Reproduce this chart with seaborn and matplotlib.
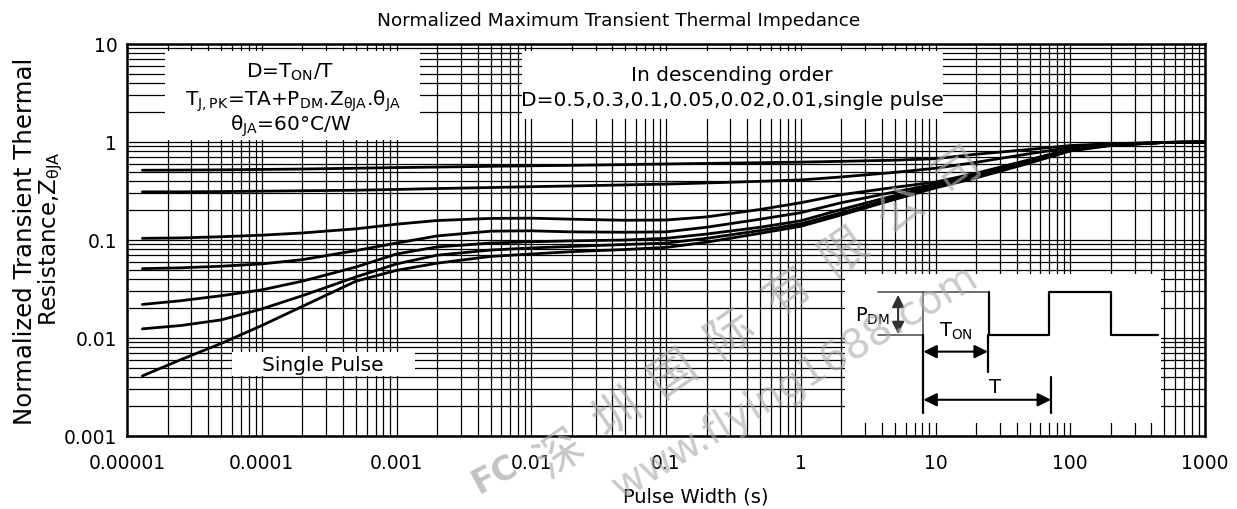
import numpy as np
import pandas as pd
import matplotlib
matplotlib.use("Agg")
import matplotlib.pyplot as plt
import seaborn as sns
from matplotlib.patches import Rectangle
from matplotlib.ticker import LogLocator, NullFormatter, FixedLocator, FixedFormatter

# ---------------- data ----------------
pulse_width = [1.3e-5, 2.5e-5, 5e-5, 1e-4, 2e-4, 5e-4, 1e-3, 2e-3, 5e-3, 1e-2,
               2e-2, 5e-2, 0.1, 0.2, 0.5, 1, 2, 5, 10, 20, 50, 100, 200, 500, 1000]

z_d050 = [0.515, 0.517, 0.52, 0.525, 0.53, 0.54, 0.548, 0.555, 0.565, 0.572,
          0.578, 0.588, 0.597, 0.605, 0.615, 0.623, 0.635, 0.652, 0.675, 0.75,
          0.84, 0.92, 0.96, 0.99, 1.0]
z_d030 = [0.31, 0.31, 0.312, 0.315, 0.318, 0.322, 0.328, 0.335, 0.343, 0.35,
          0.356, 0.365, 0.372, 0.382, 0.397, 0.41, 0.44, 0.49, 0.54, 0.62,
          0.76, 0.88, 0.95, 0.99, 1.0]
z_d010 = [0.104, 0.105, 0.108, 0.112, 0.118, 0.13, 0.145, 0.158, 0.166, 0.167,
          0.163, 0.159, 0.16, 0.172, 0.205, 0.24, 0.29, 0.345, 0.39, 0.48,
          0.66, 0.85, 0.94, 0.99, 1.0]
z_d005 = [0.051, 0.052, 0.054, 0.057, 0.063, 0.078, 0.093, 0.11, 0.123, 0.124,
          0.121, 0.12, 0.121, 0.135, 0.163, 0.19, 0.24, 0.31, 0.37, 0.46,
          0.64, 0.84, 0.93, 0.99, 1.0]
z_d002 = [0.022, 0.024, 0.027, 0.031, 0.038, 0.053, 0.072, 0.085, 0.093, 0.096,
          0.098, 0.1, 0.104, 0.115, 0.135, 0.157, 0.205, 0.285, 0.36, 0.45,
          0.63, 0.83, 0.93, 0.99, 1.0]
z_d001 = [0.0124, 0.0134, 0.0153, 0.0198, 0.027, 0.042, 0.057, 0.07, 0.079, 0.083,
          0.086, 0.09, 0.093, 0.104, 0.125, 0.146, 0.19, 0.27, 0.35, 0.44,
          0.62, 0.82, 0.93, 0.99, 1.0]
z_single = [0.0041, 0.006, 0.0088, 0.0134, 0.021, 0.038, 0.049, 0.058, 0.068, 0.072,
            0.076, 0.08, 0.084, 0.095, 0.117, 0.138, 0.18, 0.26, 0.34, 0.43,
            0.61, 0.81, 0.92, 0.99, 1.0]

series_names = ["D=0.5", "D=0.3", "D=0.1", "D=0.05", "D=0.02", "D=0.01", "Single"]
series_values = [z_d050, z_d030, z_d010, z_d005, z_d002, z_d001, z_single]

x_tick_values = [1e-5, 1e-4, 1e-3, 1e-2, 1e-1, 1, 10, 100, 1000]
x_tick_labels = ["0.00001", "0.0001", "0.001", "0.01", "0.1", "1", "10", "100", "1000"]
y_tick_values = [1e-3, 1e-2, 1e-1, 1, 10]
y_tick_labels = ["0.001", "0.01", "0.1", "1", "10"]

watermark_chars = list("深圳国际有限公司")
watermark_url = "www.flying1688.com"

# ---------------- figure ----------------
sns.set_theme(style="white")
plt.rcParams['font.family'] = ['DejaVu Sans']
plt.rcParams['mathtext.fontset'] = 'dejavusans'
for k in ['text.color', 'axes.labelcolor', 'xtick.color', 'ytick.color']:
    plt.rcParams[k] = 'black'

W, H = 1237, 510
fig = plt.figure(figsize=(W / 100, H / 100), dpi=100)
L, R, T, B = 127, 1205, 45, 437
ax = fig.add_axes([L / W, 1 - B / H, (R - L) / W, (B - T) / H])

def afx(px):
    return (px - L) / (R - L)

def afy(py):
    return (B - py) / (B - T)

df = pd.concat([pd.DataFrame({"t": pulse_width, "z": v, "D": n})
                for n, v in zip(series_names, series_values)], ignore_index=True)
sns.lineplot(data=df, x="t", y="z", hue="D", palette={n: "black" for n in series_names},
             legend=False, linewidth=2.0, ax=ax, sort=False, estimator=None, zorder=3)

ax.set_xscale("log")
ax.set_yscale("log")
ax.set_xlim(1e-5, 1e3)
ax.set_ylim(1e-3, 10)
ax.xaxis.set_major_locator(FixedLocator(x_tick_values))
ax.xaxis.set_major_formatter(FixedFormatter(x_tick_labels))
ax.yaxis.set_major_locator(FixedLocator(y_tick_values))
ax.yaxis.set_major_formatter(FixedFormatter(y_tick_labels))
ax.xaxis.set_minor_locator(LogLocator(base=10, subs=np.arange(2, 10), numticks=20))
ax.yaxis.set_minor_locator(LogLocator(base=10, subs=np.arange(2, 10), numticks=20))
ax.xaxis.set_minor_formatter(NullFormatter())
ax.yaxis.set_minor_formatter(NullFormatter())
ax.tick_params(which="both", length=0, labelsize=13.5, colors="black")
ax.tick_params(axis="x", pad=12)
ax.tick_params(axis="y", pad=7)
ax.set_axisbelow(True)
ax.grid(which="both", color="black", linewidth=0.9)
for s in ax.spines.values():
    s.set_color("black")
    s.set_linewidth(1.8)
ax.set_xlabel("Pulse Width (s)", fontsize=14, color="black")
ax.xaxis.set_label_coords(afx(696), afy(497), transform=ax.transAxes)
ax.xaxis.label.set_va("center")
ax.set_ylabel("")

# white boxes hiding the grid
def white_box(x0, y0, x1, y1):
    ax.add_patch(Rectangle((afx(x0), afy(y1)), afx(x1) - afx(x0), afy(y0) - afy(y1),
                           transform=ax.transAxes, facecolor="white", edgecolor="none",
                           zorder=1.5))

white_box(165, 52, 420, 141)
white_box(522, 52, 943, 120)
white_box(232, 353, 415, 377)

fs_box = 14.5
ax.text(afx(290), afy(78), r"D=T$_\mathregular{ON}$/T", transform=ax.transAxes,
        ha="center", va="baseline", fontsize=fs_box, zorder=4)
ax.text(afx(293), afy(106),
        r"T$_\mathregular{J,PK}$=TA+P$_\mathregular{DM}$.Z$_\mathregular{θJA}$.θ$_\mathregular{JA}$",
        transform=ax.transAxes, ha="center", va="baseline", fontsize=fs_box, zorder=4)
ax.text(afx(291), afy(130.5), r"θ$_\mathregular{JA}$=60°C/W", transform=ax.transAxes,
        ha="center", va="baseline", fontsize=fs_box, zorder=4)
ax.text(afx(732), afy(81.5), "In descending order", transform=ax.transAxes,
        ha="center", va="baseline", fontsize=fs_box, zorder=4)
ax.text(afx(732), afy(106), "D=0.5,0.3,0.1,0.05,0.02,0.01,single pulse",
        transform=ax.transAxes, ha="center", va="baseline", fontsize=fs_box, zorder=4)
ax.text(afx(323), afy(371.5), "Single Pulse", transform=ax.transAxes,
        ha="center", va="baseline", fontsize=fs_box, zorder=4)

# inset schematic of the pulse train
ix0, ix1, iy0, iy1 = 845, 1161, 275, 424
ax_in = ax.inset_axes([afx(ix0), afy(iy1), afx(ix1) - afx(ix0), afy(iy0) - afy(iy1)])
ax_in.set_facecolor("white")
ax_in.set_xlim(0, 100)
ax_in.set_ylim(0, 100)
ax_in.set_xticks([])
ax_in.set_yticks([])
for s in ax_in.spines.values():
    s.set_visible(False)
hi, lo = 88.1, 59.1
ax_in.plot([10.5, 24.8, 24.8, 10.5], [hi, hi, lo, lo], color="#555555", lw=1.2)
ax_in.plot([24.8, 45.7], [hi, hi], color="#555555", lw=1.2)
ax_in.plot([45.7, 45.7, 64.4, 64.4, 84.1, 84.1, 99.1],
           [hi, lo, lo, hi, hi, lo, lo], color="black", lw=1.6)
ax_in.plot([24.8, 24.8], [lo, 6.7], color="black", lw=1.6)
ax_in.plot([45.2, 45.2], [lo, 34.2], color="black", lw=1.6)
ax_in.plot([65.2, 65.2], [30.9, 6.7], color="black", lw=1.6)
arrow = dict(arrowstyle="<|-|>", color="black", lw=1.5, mutation_scale=20,
             shrinkA=0, shrinkB=0)
ax_in.annotate("", xy=(24.8, 47.9), xytext=(45.2, 47.9), arrowprops=arrow)
ax_in.annotate("", xy=(24.8, 15.6), xytext=(65.2, 15.6), arrowprops=arrow)
ax_in.annotate("", xy=(16.8, 86.0), xytext=(16.8, 59.7),
               arrowprops=dict(arrowstyle="<|-|>", color="#333333", lw=1.5,
                               mutation_scale=18, shrinkA=0, shrinkB=0))
ax_in.text(8.6, 72.5, r"P$_\mathregular{DM}$", ha="center", va="center", fontsize=14)
ax_in.text(35.0, 62.0, r"T$_\mathregular{ON}$", ha="center", va="center", fontsize=14)
ax_in.text(47.5, 24.2, "T", ha="center", va="center", fontsize=14)

# title and y label
fig.text(618.5 / W, 1 - 26.5 / H, "Normalized Maximum Transient Thermal Impedance",
         ha="center", va="baseline", fontsize=13.3)
fig.text(25 / W, 1 - 241 / H, "Normalized Transient Thermal", rotation=90,
         ha="center", va="center", fontsize=17.6)
fig.text(51 / W, 1 - 239 / H, r"Resistance,Z$_\mathregular{θJA}$", rotation=90,
         ha="center", va="center", fontsize=16.5)

# watermark (light grey, drawn on top like the reference)
wm = "#a9a9a9"
p0 = np.array([560.0, 455.0])
p1 = np.array([958.0, 170.0])
for i, ch in enumerate(watermark_chars):
    p = p0 + (p1 - p0) * i / (len(watermark_chars) - 1)
    fig.text(p[0] / W, 1 - p[1] / H, ch, rotation=35, ha="center", va="center",
             fontsize=34, color=wm, alpha=0.65,
             family=["Noto Sans CJK SC", "DejaVu Sans"], zorder=10)
fig.text(795 / W, 1 - 383 / H, watermark_url, rotation=31, ha="center", va="center",
         fontsize=29, color=wm, alpha=0.6, zorder=10)
fig.text(495 / W, 1 - 474 / H, "FC", rotation=28, ha="center", va="center",
         fontsize=24, fontweight="bold", color=wm, alpha=0.7, zorder=10)

fig.savefig("out.png", dpi=100)
